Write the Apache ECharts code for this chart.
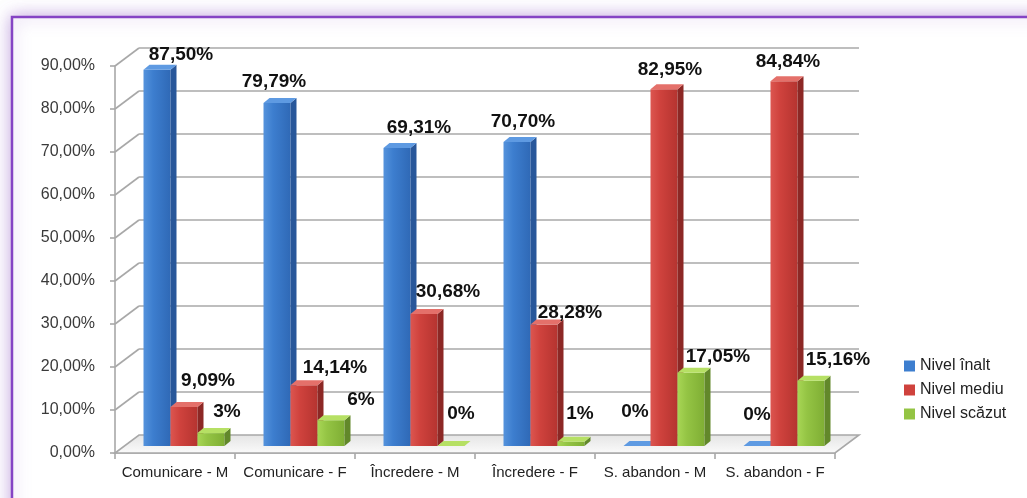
<!DOCTYPE html>
<html>
<head>
<meta charset="utf-8">
<script src="https://cdn.jsdelivr.net/npm/echarts@6/dist/echarts.min.js"></script>
<style>
  html, body { margin: 0; padding: 0; background: #ffffff; }
  #chart { width: 1027px; height: 498px; }
</style>
</head>
<body>
<div id="chart"></div>
<script>
// Categories and series values (percent)
const categories = ['Comunicare - M', 'Comunicare - F', 'Încredere - M', 'Încredere - F', 'S. abandon - M', 'S. abandon - F'];
const seriesNames = ['Nivel înalt', 'Nivel mediu', 'Nivel scăzut'];
const nivelInalt = [87.50, 79.79, 69.31, 70.70, 0, 0];
const nivelMediu = [9.09, 14.14, 30.68, 28.28, 82.95, 84.84];
const nivelScazut = [3, 6, 0, 1, 17.05, 15.16];
const yTicks = [0, 10, 20, 30, 40, 50, 60, 70, 80, 90];

// Label nudges [dx, dy] relative to the top of each bar's front face
const labelNudge = [
  [[24, -15], [-3, -21], [22, -20], [6, -20], [-2, -34], [0, -31]],
  [[24, -26], [31, -17], [24, -22], [26, -12], [6, -20], [4, -19]],
  [[16, -21], [30, -20], [10, -32], [9, -28], [27, -16], [27, -21]]
];

// Face colours: [front gradient stops, side, top]
const palette = [
  { front: ['#5593dc', '#3d7ecf', '#2f69b6'], side: '#28579a', top: '#5e9ae2', legend: '#3d7ecf' },
  { front: ['#dc5650', '#cf423d', '#b53430'], side: '#8c2825', top: '#e4706a', legend: '#cf423d' },
  { front: ['#a8d655', '#94c444', '#7fae34'], side: '#62882a', top: '#b6e064', legend: '#94c444' }
];

const WALL_DX = 24, WALL_DY = 18;   // depth of the back wall
const BAR_DX = 9, BAR_DY = 7;       // bar row sits partway into the depth
const BAR_DEPTH_X = 6, BAR_DEPTH_Y = 5;
const GRID_COLOR = '#a8a8a8';

function fmtValue(v) {
  return Number.isInteger(v) ? v + '%' : v.toFixed(2).replace('.', ',') + '%';
}
function fmtAxis(v) {
  return v.toFixed(2).replace('.', ',') + '%';
}

// Back wall, side wall and floor of the 3D frame
function renderFrame(params, api) {
  const v = api.value(1);
  const band = api.size([1, 0])[0];
  const p = api.coord([0, v]);
  const xl = p[0] - band / 2;
  const xr = xl + band * categories.length;
  const y = p[1];
  const children = [];
  const lineStyle = { stroke: GRID_COLOR, lineWidth: 1.6 };
  if (v === 0) {
    children.push({
      type: 'polygon',
      shape: { points: [[xl, y], [xr, y], [xr + WALL_DX, y - WALL_DY], [xl + WALL_DX, y - WALL_DY]] },
      style: {
        fill: {
          type: 'linear', x: 0, y: 0, x2: 0, y2: 1,
          colorStops: [{ offset: 0, color: '#e4e4e4' }, { offset: 1, color: '#fbfbfb' }]
        },
        stroke: GRID_COLOR, lineWidth: 1.6
      }
    });
  } else {
    children.push({ type: 'line', shape: { x1: xl, y1: y, x2: xl + WALL_DX, y2: y - WALL_DY }, style: lineStyle });
    children.push({ type: 'line', shape: { x1: xl + WALL_DX, y1: y - WALL_DY, x2: xr + WALL_DX, y2: y - WALL_DY }, style: lineStyle });
  }
  return { type: 'group', children: children };
}

// One 3D column: front face, right side, top, and its value label
function makeBarRenderer(k) {
  const col = palette[k];
  return function (params, api) {
    const cat = api.value(0);
    const v = api.value(1);
    const band = api.size([1, 0])[0];
    const base = api.coord([cat, 0]);
    const top = api.coord([cat, v]);
    const bw = band * 0.225;
    const x0 = base[0] + (k - 1.5) * bw + BAR_DX;
    const x1 = x0 + bw;
    const yb = base[1] - BAR_DY;
    const yt = top[1] - BAR_DY;
    const children = [];
    if (yb - yt > 0.5) {
      children.push({
        type: 'rect',
        shape: { x: x0, y: yt, width: bw, height: yb - yt },
        style: {
          fill: {
            type: 'linear', x: 0, y: 0, x2: 1, y2: 0,
            colorStops: [
              { offset: 0, color: col.front[0] },
              { offset: 0.35, color: col.front[1] },
              { offset: 1, color: col.front[2] }
            ]
          }
        }
      });
      children.push({
        type: 'polygon',
        shape: { points: [[x1, yt], [x1 + BAR_DEPTH_X, yt - BAR_DEPTH_Y], [x1 + BAR_DEPTH_X, yb - BAR_DEPTH_Y], [x1, yb]] },
        style: { fill: col.side }
      });
    }
    children.push({
      type: 'polygon',
      shape: { points: [[x0, yt], [x0 + BAR_DEPTH_X, yt - BAR_DEPTH_Y], [x1 + BAR_DEPTH_X, yt - BAR_DEPTH_Y], [x1, yt]] },
      style: { fill: col.top }
    });
    const nudge = labelNudge[k][params.dataIndex];
    children.push({
      type: 'text',
      z2: 100,
      style: {
        text: fmtValue(v),
        x: (x0 + x1) / 2 + nudge[0],
        y: yt + nudge[1],
        align: 'center',
        verticalAlign: 'middle',
        fill: '#111111',
        font: 'bold 19px "Liberation Sans", Arial, sans-serif'
      }
    });
    return { type: 'group', children: children };
  };
}

const seriesValues = [nivelInalt, nivelMediu, nivelScazut];

const chart = echarts.init(document.getElementById('chart'), null, { renderer: 'canvas' });

const barSeries = seriesValues.map(function (vals, k) {
  return {
    name: seriesNames[k],
    type: 'custom',
    z: 3,
    renderItem: makeBarRenderer(k),
    itemStyle: { color: palette[k].legend },
    encode: { x: 0, y: 1 },
    data: vals.map(function (v, i) { return [i, v]; })
  };
});

chart.setOption({
  backgroundColor: '#ffffff',
  animation: false,
  graphic: [{
    type: 'rect',
    z: -10,
    silent: true,
    shape: { x: 12, y: 17, width: 1100, height: 600 },
    style: {
      fill: '#ffffff',
      stroke: '#8544c4',
      lineWidth: 2.5,
      shadowBlur: 16,
      shadowColor: 'rgba(150, 100, 200, 0.55)'
    }
  }],
  grid: { left: 115, right: 192, top: 66, bottom: 45, containLabel: false },
  legend: {
    orient: 'vertical',
    left: 899,
    top: 353,
    itemWidth: 11,
    itemHeight: 11,
    itemGap: 8,
    icon: 'rect',
    data: seriesNames,
    textStyle: { fontSize: 16, color: '#222222', fontFamily: '"Liberation Sans", Arial, sans-serif' }
  },
  xAxis: {
    type: 'category',
    data: categories,
    axisLine: { show: true, lineStyle: { color: GRID_COLOR, width: 1.6 } },
    axisTick: { show: true, length: 6, lineStyle: { color: GRID_COLOR, width: 1.6 } },
    axisLabel: { fontSize: 15, color: '#222222', margin: 12, interval: 0, fontFamily: '"Liberation Sans", Arial, sans-serif' },
    splitLine: { show: false }
  },
  yAxis: {
    type: 'value',
    min: 0,
    max: 90,
    interval: 10,
    axisLine: { show: true, lineStyle: { color: GRID_COLOR, width: 1.6 } },
    axisTick: { show: true, length: 5, lineStyle: { color: GRID_COLOR, width: 1.6 } },
    axisLabel: { formatter: fmtAxis, fontSize: 16, color: '#3a3a3a', margin: 20, fontFamily: '"Liberation Sans", Arial, sans-serif' },
    splitLine: { show: false }
  },
  series: [{
    type: 'custom',
    z: 1,
    silent: true,
    renderItem: renderFrame,
    encode: { x: 0, y: 1 },
    data: yTicks.map(function (v) { return [0, v]; })
  }].concat(barSeries)
});
</script>
</body>
</html>
